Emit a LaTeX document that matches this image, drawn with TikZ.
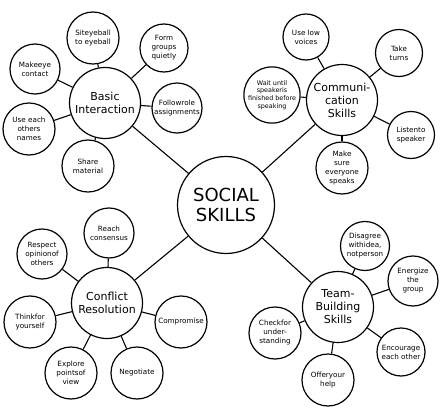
\documentclass[tikz,border=0pt]{standalone}
\usepackage{fontspec}
\setmainfont{DejaVu Sans}
\begin{document}
\begin{tikzpicture}[
    x=1pt, y=-1pt,
    % Define bubble styles locally
    bubble/.style={draw, circle, line width=1.2pt, inner sep=0pt, align=center},
    core/.style={bubble, minimum size=97pt, font=\fontsize{18}{20}\selectfont},
    hub/.style={bubble, minimum size=71pt, font=\fontsize{11}{13}\selectfont},
    leaf/.style={bubble, minimum size=50pt, font=\fontsize{7.2}{9}\selectfont},
    link/.style={line width=1.1pt}
]
    \useasboundingbox (0,0) rectangle (445,415);

    % --- CENTRE ---
    \node[core] (social) at (226,205) {SOCIAL\\SKILLS};

    % --- BASIC INTERACTION ---
    \node[hub] (basic) at (105,103) {Basic\\Interaction};
    \node[leaf, minimum size=52pt] (sit) at (93,38) {Siteyeball\\to eyeball};
    \node[leaf, minimum size=48pt] (form) at (164,48) {Form\\groups\\quietly};
    \node[leaf] (eye) at (35,69) {Makeeye\\contact};
    \node[leaf] (role) at (177,108) {Followrole\\assignments};
    \node[leaf, minimum size=52pt] (names) at (29,129) {Use each\\others\\names};
    \node[leaf, minimum size=52pt] (share) at (88,166) {Share\\material};

    % --- COMMUNICATION SKILLS ---
    \node[hub] (comm) at (342,100) {Communi-\\cation\\Skills};
    \node[leaf, minimum size=46pt] (low) at (306,37) {Use low\\voices};
    \node[leaf, minimum size=47pt] (turns) at (399,53) {Take\\turns};
    \node[leaf, font=\fontsize{6.4}{7.8}\selectfont] (wait) at (272,95) {Wait until\\speakeris\\finished before\\speaking};
    \node[leaf, minimum size=47pt] (listen) at (411,135) {Listento\\speaker};
    \node[leaf, minimum size=52pt] (sure) at (342,168) {Make\\sure\\everyone\\speaks};

    % --- CONFLICT RESOLUTION ---
    \node[hub] (conflict) at (107,303) {Conflict\\Resolution};
    \node[leaf] (reach) at (109,233) {Reach\\consensus};
    \node[leaf] (respect) at (42,254) {Respect\\opinionof\\others};
    \node[leaf, minimum size=52pt] (think) at (30,322) {Thinkfor\\yourself};
    \node[leaf, minimum size=52pt] (comp) at (181,322) {Compromise};
    \node[leaf, minimum size=52pt] (explore) at (71,373) {Explore\\pointsof\\view};
    \node[leaf, minimum size=52pt] (nego) at (137,373) {Negotiate};

    % --- TEAM-BUILDING SKILLS ---
    \node[hub] (team) at (338,307) {Team-\\Building\\Skills};
    \node[leaf, minimum size=49pt] (disagree) at (365,246) {Disagree\\withidea,\\notperson};
    \node[leaf, minimum size=50pt] (energy) at (413,281) {Energize\\the\\group};
    \node[leaf, minimum size=52pt] (check) at (275,333) {Checkfor\\under-\\standing};
    \node[leaf, minimum size=48pt] (encourage) at (401,352) {Encourage\\each other};
    \node[leaf, minimum size=52pt] (offer) at (328,380) {Offeryour\\help};

    % --- CONNECTORS ---
    \foreach \hubname in {basic, comm, conflict, team}
        \draw[link] (social) -- (\hubname);
    \foreach \leafname in {sit, form, eye, role, names, share}
        \draw[link] (basic) -- (\leafname);
    \foreach \leafname in {low, turns, wait, listen, sure}
        \draw[link] (comm) -- (\leafname);
    \foreach \leafname in {reach, respect, think, comp, explore, nego}
        \draw[link] (conflict) -- (\leafname);
    \foreach \leafname in {disagree, energy, check, encourage, offer}
        \draw[link] (team) -- (\leafname);

\end{tikzpicture}
\end{document}
